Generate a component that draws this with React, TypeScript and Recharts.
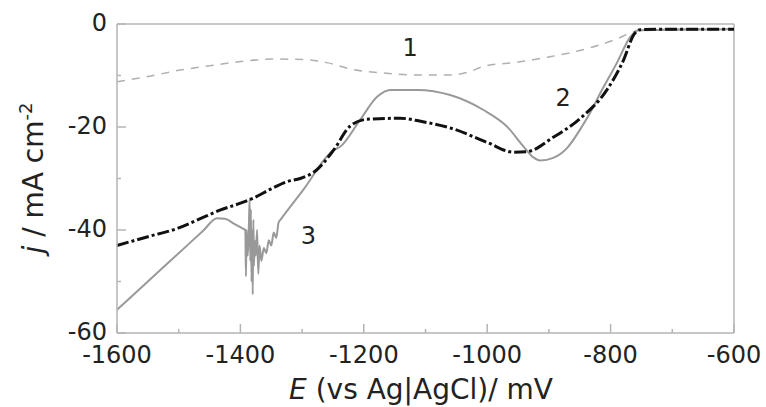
import React from 'react';
import {
  LineChart,
  Line,
  XAxis,
  YAxis,
  ReferenceLine,
  ReferenceDot,
} from 'recharts';

// curve 1 (dashed, light gray)
const c1E = [-1600, -1550, -1500, -1450, -1400, -1350, -1300, -1260, -1220, -1170, -1110, -1060, -1030, -1005, -950, -900, -845, -790, -765, -750, -600];
const c1J = [-11.2, -10.2, -9.0, -8.1, -7.3, -6.8, -6.9, -7.5, -8.8, -9.5, -9.9, -9.9, -9.3, -8.2, -7.4, -6.4, -5.0, -2.9, -1.6, -1.1, -0.9];

// curve 2 (black dash-dot)
const c2E = [-1600, -1550, -1500, -1465, -1432, -1400, -1379, -1350, -1324, -1303, -1276, -1249, -1222, -1195, -1141, -1108, -1054, -1000, -957, -936, -893, -849, -806, -779, -762, -752, -700, -600];
const c2J = [-43.0, -41.3, -39.6, -37.8, -36.1, -34.8, -33.8, -32.0, -30.6, -30.0, -28.3, -24.5, -19.8, -18.5, -18.3, -18.9, -20.4, -23.0, -24.9, -24.8, -22.0, -18.3, -12.8, -7.0, -2.0, -1.1, -1.0, -1.0];

// curve 3 (gray solid, with noise near -1380)
const c3E = [-1600, -1550, -1500, -1460, -1438, -1425, -1410, -1395, -1392, -1391, -1390, -1388, -1386, -1385, -1384, -1383, -1382, -1381, -1380, -1379, -1378, -1377, -1375, -1373, -1371, -1369, -1366, -1362, -1358, -1354, -1350, -1346, -1342, -1338, -1335, -1300, -1249, -1238, -1206, -1178, -1157, -1113, -1060, -1006, -968, -941, -925, -914, -893, -870, -850, -833, -817, -790, -768, -755, -600];
const c3J = [-55.5, -50.0, -44.5, -40.1, -37.7, -37.8, -38.8, -39.8, -40.0, -49.0, -40.0, -45.0, -38.0, -34.0, -46.0, -36.0, -50.0, -40.0, -52.5, -38.0, -47.0, -42.0, -45.0, -40.0, -48.5, -43.0, -46.0, -43.5, -44.5, -42.0, -43.0, -40.5, -41.5, -38.5, -38.0, -32.5, -24.5, -23.8, -18.6, -14.1, -12.8, -12.8, -13.8, -16.7, -19.9, -23.8, -25.9, -26.5, -26.0, -24.0, -20.6, -17.2, -13.5, -7.6, -2.5, -1.2, -1.0];

const xTicks = [-1600, -1500, -1400, -1300, -1200, -1100, -1000, -900, -800, -700, -600];
const yTicks = [-60, -50, -40, -30, -20, -10, 0];

const toPoints = (e: number[], j: number[]) => e.map((x, i) => ({ x, y: j[i] }));

const FONT = '"DejaVu Sans", sans-serif';
const AXIS = '#b4b4b4';
const TEXT = '#222';

const XTick = (props: any) => {
  const { x, y, payload } = props;
  const major = payload.value % 200 === 0;
  return (
    <g>
      <line x1={x} x2={x} y1={y} y2={y - (major ? 9 : 4)} stroke={AXIS} strokeWidth={1.5} />
      {major && (
        <text x={x} y={y + 30} textAnchor="middle" fontSize={24} fontFamily={FONT} fill={TEXT}>
          {payload.value}
        </text>
      )}
    </g>
  );
};

const YTick = (props: any) => {
  const { x, y, payload } = props;
  const major = payload.value % 20 === 0;
  return (
    <g>
      <line x1={x} x2={x + (major ? 9 : 4)} y1={y} y2={y} stroke={AXIS} strokeWidth={1.5} />
      {major && (
        <text x={x - 10} y={y + 7} textAnchor="end" fontSize={24} fontFamily={FONT} fill={TEXT}>
          {payload.value}
        </text>
      )}
    </g>
  );
};

const curveLabel = (txt: string) => (p: any) => (
  <text x={p.cx} y={p.cy} textAnchor="middle" dominantBaseline="central" fontSize={24} fontFamily={FONT} fill={TEXT}>
    {txt}
  </text>
);

export default function App() {
  return (
    <div style={{ width: 766, height: 407 }}>
      <style>{'body{margin:0}'}</style>
      <LineChart width={766} height={407} margin={{ top: 24, right: 32, left: 0, bottom: 0 }}>
        <XAxis
          type="number"
          dataKey="x"
          domain={[-1600, -600]}
          ticks={xTicks}
          interval={0}
          tickSize={0}
          tickMargin={0}
          tick={<XTick />}
          height={74}
          stroke={AXIS}
          strokeWidth={1.5}
          label={{
            content: () => (
              <text x={421} y={399} textAnchor="middle" fontSize={28} fontFamily={FONT} fill={TEXT}>
                <tspan fontStyle="italic">E</tspan> (vs Ag|AgCl)/ mV
              </text>
            ),
          }}
        />
        <YAxis
          type="number"
          dataKey="y"
          domain={[-60, 0]}
          ticks={yTicks}
          interval={0}
          tickSize={0}
          tickMargin={0}
          tick={<YTick />}
          width={117}
          stroke={AXIS}
          strokeWidth={1.5}
          label={{
            content: () => (
              <text transform="translate(43,178) rotate(-90)" textAnchor="middle" fontSize={28} fontFamily={FONT} fill={TEXT}>
                <tspan fontStyle="italic">j</tspan> / mA cm<tspan fontSize={18} dy={-11}>-2</tspan>
              </text>
            ),
          }}
        />
        <ReferenceLine y={0} stroke={AXIS} strokeWidth={1.5} />
        <ReferenceLine x={-600} stroke={AXIS} strokeWidth={1.5} />
        <Line
          data={toPoints(c1E, c1J)}
          dataKey="y"
          type="monotone"
          stroke="#b0b0b0"
          strokeWidth={1.5}
          strokeDasharray="8 7"
          dot={false}
          isAnimationActive={false}
        />
        <Line
          data={toPoints(c3E, c3J)}
          dataKey="y"
          type="monotone"
          stroke="#999"
          strokeWidth={2}
          dot={false}
          isAnimationActive={false}
        />
        <Line
          data={toPoints(c2E, c2J)}
          dataKey="y"
          type="monotone"
          stroke="#111"
          strokeWidth={3}
          strokeDasharray="12 3 3 3"
          dot={false}
          isAnimationActive={false}
        />
        <ReferenceDot x={-1125} y={-4.6} r={0} shape={curveLabel('1')} />
        <ReferenceDot x={-877} y={-14.4} r={0} shape={curveLabel('2')} />
        <ReferenceDot x={-1290} y={-41.2} r={0} shape={curveLabel('3')} />
      </LineChart>
    </div>
  );
}
